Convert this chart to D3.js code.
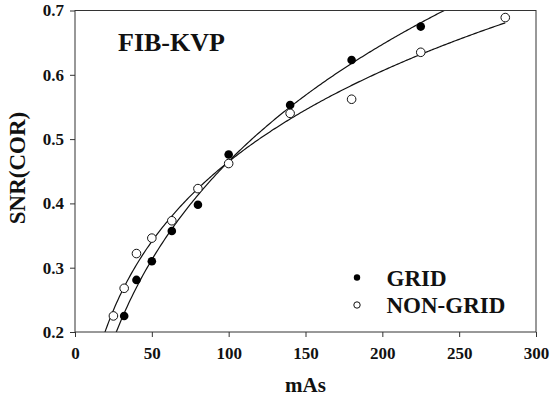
<!DOCTYPE html>
<html>
<head>
<meta charset="utf-8">
<script src="https://cdn.jsdelivr.net/npm/d3@7"></script>
<style>
  body { margin: 0; background: #fff; }
  text { font-family: "Liberation Serif", "DejaVu Serif", serif; font-weight: bold; fill: #111; }
</style>
</head>
<body>
<div id="vis"></div>
<script>
// Data
const GRID_MAS = [32, 40, 50, 63, 80, 100, 140, 180, 225];
const GRID_SNR = [0.225, 0.281, 0.310, 0.357, 0.398, 0.476, 0.553, 0.623, 0.675];
const NONGRID_MAS = [25, 32, 40, 50, 63, 80, 100, 140, 180, 225, 280];
const NONGRID_SNR = [0.225, 0.268, 0.322, 0.346, 0.373, 0.423, 0.462, 0.540, 0.562, 0.635, 0.689];
const X_TICKS = [0, 50, 100, 150, 200, 250, 300];
const Y_TICKS = [0.2, 0.3, 0.4, 0.5, 0.6, 0.7];

// Constants
const FRAME_WIDTH = 552;
const FRAME_HEIGHT = 402;
const MARGINS = { left: 75, right: 16, top: 10.5, bottom: 70 };
const VIS_WIDTH = FRAME_WIDTH - MARGINS.left - MARGINS.right;
const VIS_HEIGHT = FRAME_HEIGHT - MARGINS.top - MARGINS.bottom;

const FRAME = d3.select("#vis")
    .append("svg")
    .attr("width", FRAME_WIDTH)
    .attr("height", FRAME_HEIGHT);

const X_SCALE = d3.scaleLinear().domain([0, 300]).range([0, VIS_WIDTH]);
const Y_SCALE = d3.scaleLinear().domain([0.2, 0.7]).range([VIS_HEIGHT, 0]);

const PLOT = FRAME.append("g")
    .attr("transform", "translate(" + MARGINS.left + "," + MARGINS.top + ")");

// least squares fit of y = a + b ln x + c (ln x)^2
function fitLogQuad(xs, ys) {
    const n = 3;
    const A = [[0, 0, 0], [0, 0, 0], [0, 0, 0]];
    const B = [0, 0, 0];
    xs.forEach((x, i) => {
        const l = Math.log(x);
        const row = [1, l, l * l];
        for (let r = 0; r < n; r++) {
            B[r] += row[r] * ys[i];
            for (let c = 0; c < n; c++) A[r][c] += row[r] * row[c];
        }
    });
    // gaussian elimination
    for (let p = 0; p < n; p++) {
        for (let r = p + 1; r < n; r++) {
            const f = A[r][p] / A[p][p];
            for (let c = p; c < n; c++) A[r][c] -= f * A[p][c];
            B[r] -= f * B[p];
        }
    }
    const coef = [0, 0, 0];
    for (let r = n - 1; r >= 0; r--) {
        let s = B[r];
        for (let c = r + 1; c < n; c++) s -= A[r][c] * coef[c];
        coef[r] = s / A[r][r];
    }
    return (x) => coef[0] + coef[1] * Math.log(x) + coef[2] * Math.log(x) * Math.log(x);
}

// clip curves to plot area
FRAME.append("defs").append("clipPath")
    .attr("id", "clip")
    .append("rect")
    .attr("width", VIS_WIDTH)
    .attr("height", VIS_HEIGHT);

const line = d3.line()
    .x((d) => X_SCALE(d[0]))
    .y((d) => Y_SCALE(d[1]));

[[GRID_MAS, GRID_SNR], [NONGRID_MAS, NONGRID_SNR]].forEach((s) => {
    const f = fitLogQuad(s[0], s[1]);
    const pts = d3.range(12, 281, 1).map((x) => [x, f(x)]);
    PLOT.append("path")
        .datum(pts)
        .attr("clip-path", "url(#clip)")
        .attr("fill", "none")
        .attr("stroke", "#111")
        .attr("stroke-width", 1.2)
        .attr("d", line);
});

// axes
const xAxis = PLOT.append("g")
    .attr("transform", "translate(0," + VIS_HEIGHT + ")")
    .call(d3.axisBottom(X_SCALE).tickValues(X_TICKS).tickSize(5).tickPadding(10));
const yAxis = PLOT.append("g")
    .call(d3.axisLeft(Y_SCALE).tickValues(Y_TICKS).tickFormat(d3.format(".1f")).tickSize(5).tickPadding(6));
[xAxis, yAxis].forEach((a) => {
    a.select(".domain").remove();
    a.selectAll("line").attr("stroke", "#333");
    a.selectAll("text").attr("font-size", "17px").attr("fill", "#111")
        .attr("font-family", "Liberation Serif, serif").attr("font-weight", "bold");
});

// frame box
PLOT.append("rect")
    .attr("width", VIS_WIDTH)
    .attr("height", VIS_HEIGHT)
    .attr("fill", "none")
    .attr("stroke", "#333")
    .attr("stroke-width", 1);

// points
PLOT.selectAll(".grid")
    .data(GRID_MAS)
    .enter()
    .append("circle")
    .attr("cx", (d) => X_SCALE(d))
    .attr("cy", (d, i) => Y_SCALE(GRID_SNR[i]))
    .attr("r", 4.3)
    .attr("fill", "#000");

PLOT.selectAll(".nongrid")
    .data(NONGRID_MAS)
    .enter()
    .append("circle")
    .attr("cx", (d) => X_SCALE(d))
    .attr("cy", (d, i) => Y_SCALE(NONGRID_SNR[i]))
    .attr("r", 4.3)
    .attr("fill", "#fff")
    .attr("stroke", "#111")
    .attr("stroke-width", 1);

// title
PLOT.append("text")
    .attr("x", 43)
    .attr("y", 40)
    .attr("font-size", "26px")
    .text("FIB-KVP");

// legend
const LEGEND = PLOT.append("g").attr("transform", "translate(282,267)");
LEGEND.append("circle").attr("cx", 0).attr("cy", 0).attr("r", 3.2).attr("fill", "#000");
LEGEND.append("circle").attr("cx", 0).attr("cy", 27.5).attr("r", 3.2)
    .attr("fill", "#fff").attr("stroke", "#111");
LEGEND.append("text").attr("x", 29.5).attr("y", 8).attr("font-size", "23px").text("GRID");
LEGEND.append("text").attr("x", 29.5).attr("y", 35).attr("font-size", "23px").text("NON-GRID");

// axis titles
FRAME.append("text")
    .attr("x", MARGINS.left + X_SCALE(150))
    .attr("y", 392)
    .attr("text-anchor", "middle")
    .attr("font-size", "21px")
    .text("mAs");

FRAME.append("text")
    .attr("transform", "translate(25,168) rotate(-90)")
    .attr("text-anchor", "middle")
    .attr("font-size", "23px")
    .text("SNR(COR)");
</script>
</body>
</html>
